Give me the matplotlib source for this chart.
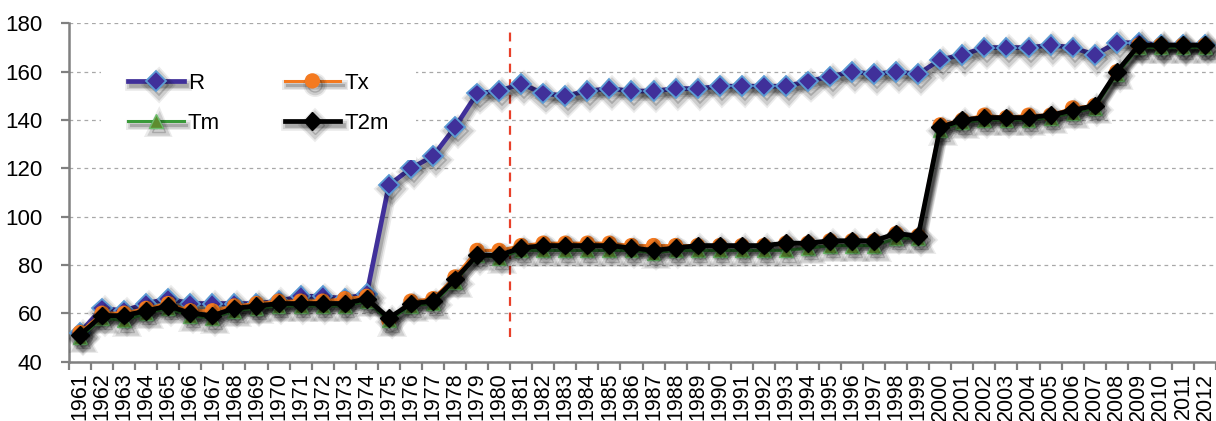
import matplotlib
matplotlib.use("Agg")
import matplotlib.pyplot as plt
import matplotlib.patheffects as pe
import numpy as np

plt.rcParams['font.family'] = ['Liberation Sans', 'DejaVu Sans']

years = [str(y) for y in range(1961, 2013)]

R = [52, 62, 61, 64, 66, 64, 64, 64, 64, 65, 67, 67, 66, 68, 113, 120, 125, 137, 151, 152,
     155, 151, 150, 152, 153, 152, 152, 153, 153, 154, 154, 154, 154, 156, 158, 160, 159, 160, 159, 165,
     167, 170, 170, 170, 171, 170, 167, 172, 172, 171, 171, 171]
Tx = [52, 60, 60, 62, 64, 61, 61, 63, 64, 65, 65, 65, 66, 67, 57, 65, 66, 75, 86, 86,
      88, 89, 89, 89, 89, 88, 88, 88, 88, 88, 88, 88, 89, 89, 90, 90, 90, 93, 92, 138,
      140, 142, 141, 142, 142, 145, 146, 160, 171, 171, 171, 171]
Tm = [50, 58, 57, 60, 62, 59, 58, 61, 62, 63, 63, 63, 63, 65, 57, 63, 64, 73, 84, 83,
      86, 86, 86, 86, 86, 86, 85, 86, 86, 86, 86, 86, 86, 87, 88, 88, 88, 91, 91, 136,
      139, 140, 140, 140, 141, 143, 145, 159, 170, 170, 170, 170]
T2m = [51, 59, 59, 61, 63, 60, 59, 62, 63, 64, 64, 64, 64, 66, 58, 64, 65, 74, 84, 84,
       87, 88, 88, 88, 88, 87, 86, 87, 88, 88, 88, 88, 89, 89, 90, 90, 90, 93, 92, 137,
       140, 141, 141, 141, 142, 144, 146, 160, 171, 171, 171, 171]

break_year = 1981
y_ticks = [40, 60, 80, 100, 120, 140, 160, 180]

W, H = 1216, 421
fig = plt.figure(figsize=(W / 100, H / 100), dpi=100)
ax = fig.add_axes([69 / W, 1 - 361.5 / H, 1147 / W, (361.5 - 23.4) / H])

x = np.arange(len(years))


def shadow(lw):
    return [pe.SimpleLineShadow(offset=(2, -3), alpha=0.08, linewidth=lw + 5),
            pe.SimpleLineShadow(offset=(2, -3), alpha=0.12, linewidth=lw + 2.5),
            pe.SimpleLineShadow(offset=(2, -3), alpha=0.18),
            pe.Normal()]


hR, = ax.plot(x, R, color='#40309A', lw=3.4, marker='D', ms=10, mfc='#40309A', mec='#5B9BD5',
              mew=1.3, label='R', path_effects=shadow(3.4), zorder=3)
hTx, = ax.plot(x, Tx, color='#F47A20', lw=2.2, marker='o', ms=10, mfc='#F47A20', mec='#F47A20',
               label='Tx', path_effects=shadow(2.2), zorder=4)
hTm, = ax.plot(x, Tm, color='#3A9A3A', lw=2.2, marker='^', ms=10, mfc='#5E8C30', mec='#6DBE6D',
               mew=1.0, label='Tm', path_effects=shadow(2.2), zorder=5)
hT2, = ax.plot(x, T2m, color='black', lw=3.4, marker='D', ms=9, mfc='black', mec='black',
               label='T2m', path_effects=shadow(3.4), zorder=6)

bx = years.index(str(break_year)) - 0.5
ax.plot([bx, bx], [50, 179], color='#E8402A', lw=1.6, ls=(0, (4, 3)), zorder=2)

ax.set_xlim(-0.5, len(years) - 0.5)
ax.set_ylim(40, 180)
ax.set_yticks(y_ticks)
ax.set_yticklabels([str(v) for v in y_ticks], fontsize=16)
ax.set_xticks(x)
ax.set_xticklabels(years, rotation=90, fontsize=15.5)
ax.set_xticks(np.arange(-0.5, len(years), 1.0), minor=True)
ax.tick_params(axis='x', which='major', length=0, pad=8)
ax.tick_params(axis='x', which='minor', length=6, width=1.6, color='#808080')
ax.tick_params(axis='y', length=6, width=1.6, color='#808080', pad=13)

ax.grid(axis='y', color='#A8A8A8', lw=0.9, ls=(0, (3, 3)), zorder=0)
for s in ['top', 'right']:
    ax.spines[s].set_visible(False)
for s in ['left', 'bottom']:
    ax.spines[s].set_color('#808080')
    ax.spines[s].set_linewidth(1.8)

leg = ax.legend(handles=[hR, hTm, hTx, hT2], loc='upper left', bbox_to_anchor=(0.0185, 0.966),
                ncol=2, fontsize=16, frameon=True, facecolor='white', edgecolor='none',
                framealpha=1.0, handlelength=2.5, handletextpad=0.2, columnspacing=2.9,
                labelspacing=0.85, borderpad=1.2, fancybox=False)
leg.set_zorder(10)

fig.savefig('out.png', dpi=100)
